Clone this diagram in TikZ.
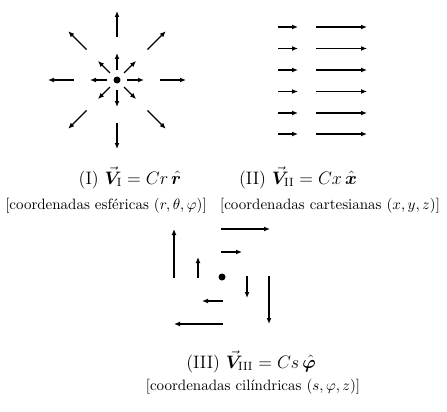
\documentclass[tikz,border=0pt]{standalone}
\usepackage{amsmath,bm}
\usetikzlibrary{arrows.meta,calc}
\begin{document}
\begin{tikzpicture}[x=1pt,y=-1pt,
  vec/.style={line width=1.4pt,-{Latex[length=6pt,width=5pt]}},
  captxt/.style={anchor=base,scale=1.5,inner sep=0pt}]
\useasboundingbox (0,0) rectangle (447,412);
% Panel I
\coordinate (cI) at (117,80);
\fill (cI) circle (3.5);
\foreach \a in {0,45,...,315}{
  \draw[vec] ($(cI)+(\a:10)$) -- ($(cI)+(\a:27)$);
  \draw[vec] ($(cI)+(\a:43)$) -- ($(cI)+(\a:69)$);
}
% Panel II
\foreach \y in {27,48.5,70,91.5,113,134}{
  \draw[vec] (278,\y) -- (298,\y);
  \draw[vec] (316,\y) -- (367,\y);
}
% Panel III
\coordinate (cIII) at (222,277);
\fill (cIII) circle (3.5);
\draw[vec] (174,278) -- (174,229);
\draw[vec] (198,278) -- (198,257);
\draw[vec] (221,229) -- (270,229);
\draw[vec] (221,252) -- (242,252);
\draw[vec] (247,276) -- (247,298);
\draw[vec] (269,276) -- (269,324);
\draw[vec] (223,301) -- (202,301);
\draw[vec] (223,324) -- (174,324);
% Captions
\node[captxt] (tI) at (130,184) {\large (I) $\vec{\bm V}_{\rm I} = Cr\,\hat{\bm r}$};
\node[captxt] (sI) at (106,209) {[coordenadas esféricas $(r,\theta,\varphi)$]};
\node[captxt] (tII) at (298,184) {\large (II) $\vec{\bm V}_{\rm II} = Cx\,\hat{\bm x}$};
\node[captxt] (sII) at (330,209) {[coordenadas cartesianas $(x,y,z)$]};
\node[captxt] (tIII) at (251,368) {\large (III) $\vec{\bm V}_{\rm III} = Cs\,\hat{\bm\varphi}$};
\node[captxt] (sIII) at (253,390) {[coordenadas cilíndricas $(s,\varphi,z)$]};
\end{tikzpicture}
\end{document}
